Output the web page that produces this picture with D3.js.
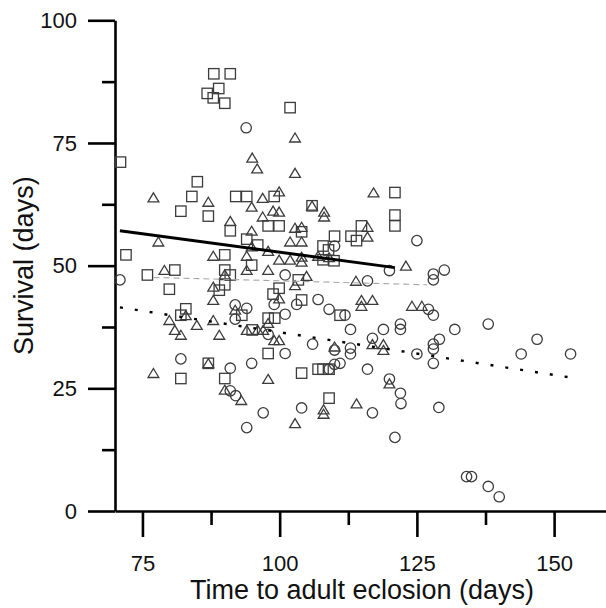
<!DOCTYPE html>
<html>
<head>
<meta charset="utf-8">
<script src="https://cdn.jsdelivr.net/npm/d3@7"></script>
<style>
  html, body { margin: 0; padding: 0; background: #fff; }
  svg { display: block; font-family: "Liberation Sans", Arial, Helvetica, sans-serif; }
</style>
</head>
<body>
<svg id="chart" width="606" height="608"></svg>
<script>
// ---- data (time to adult eclosion, survival) ----
const squareX = [88.0,91.0,86.8,88.9,87.9,90.0,101.9,71.0,85.0,84.0,82.0,87.0,92.0,94.0,99.0,97.9,99.9,91.0,94.0,96.0,72.0,90.0,121.0,105.9,121.0,121.0,114.9,113.0,114.0,110.0,104.0,107.9,108.9,107.9,109.9,75.9,80.9,79.9,90.0,91.0,94.9,90.0,89.0,99.9,98.8,93.1,82.9,82.0,97.9,99.1,95.0,97.9,87.0,82.0,90.0,103.4,104.0,111.0,107.0,107.9,109.0,104.0,109.0];
const squareY = [89.1,89.1,85.1,86.1,84.2,83.1,82.2,71.1,67.1,64.1,61.1,60.1,64.1,64.1,64.1,58.1,58.1,57.1,55.4,54.2,52.2,52.2,64.9,62.2,60.3,58.1,58.1,56.0,55.1,56.0,56.9,54.0,53.2,51.2,51.0,48.1,49.1,45.2,49.1,48.1,50.1,46.1,45.0,45.4,44.2,39.9,41.2,39.9,39.3,39.3,36.9,32.1,30.1,27.0,27.0,47.1,43.0,39.9,28.9,28.9,28.9,28.1,23.0];

const triangleX = [102.8,95.0,95.9,102.8,117.1,77.0,87.0,96.9,99.9,94.9,98.8,99.9,96.9,91.0,94.9,102.8,77.9,94.9,97.9,101.9,87.9,94.0,99.9,101.9,97.9,79.0,90.0,94.0,87.9,87.9,99.9,91.9,82.9,79.9,80.9,82.0,84.9,87.9,89.0,97.9,94.0,96.0,97.0,99.0,99.9,87.0,77.0,97.9,90.0,93.0,102.8,104.0,105.9,108.1,108.1,116.0,116.0,104.0,107.0,109.0,104.0,104.0,123.0,104.9,113.9,114.9,116.9,114.9,124.1,125.9,110.0,116.9,118.9,118.9,120.0,108.0,108.0,114.0,102.8];
const triangleY = [76.1,72.0,69.8,68.9,64.9,63.9,63.0,63.8,65.1,62.0,61.2,61.0,60.0,59.1,57.1,57.7,54.9,53.9,53.0,54.9,52.0,52.0,51.2,51.2,49.1,49.1,48.2,49.1,45.7,43.0,43.3,41.0,39.9,38.9,36.9,35.9,37.9,38.9,35.9,38.3,36.9,36.9,36.9,34.8,34.8,30.1,28.1,26.9,24.7,22.6,17.9,57.9,62.2,61.0,60.0,57.9,55.9,54.9,52.0,51.7,51.8,50.8,50.0,47.9,46.9,43.0,43.0,41.8,41.8,41.8,33.5,34.0,34.0,32.8,26.0,20.7,19.8,21.9,46.0];

const circleX = [93.9,70.9,101.0,99.0,91.9,94.0,91.9,101.0,103.1,97.9,101.0,82.0,91.0,94.9,91.0,92.0,97.0,94.0,104.0,116.9,122.1,121.0,129.0,134.05,134.95,138.0,140.0,122.0,110.0,125.0,120.0,128.0,128.0,130.0,116.0,107.0,109.0,111.9,127.1,128.0,112.9,118.9,122.0,122.0,131.9,138.0,146.9,144.0,153.0,106.0,110.0,112.9,112.9,116.9,125.0,128.0,128.0,129.1,128.0,109.0,110.0,111.0,116.0,120.0];
const circleY = [78.1,47.1,48.1,42.1,42.0,41.3,39.1,40.1,42.1,36.0,32.1,31.0,29.1,30.1,24.5,23.5,20.0,17.0,21.0,20.0,21.9,15.0,21.1,7.0,7.0,5.0,2.9,24.0,54.0,55.1,49.0,48.3,47.1,49.1,46.9,43.1,41.1,39.9,41.1,39.9,37.0,37.0,38.1,37.0,37.0,38.1,35.0,32.0,32.0,34.0,32.8,33.2,32.0,35.2,32.0,34.0,33.0,35.0,30.1,28.9,29.9,30.1,28.9,26.9];

// fitted regression lines: [xStart, xEnd], [yStart, yEnd]
const fitSquareX = [70.9, 121.0], fitSquareY = [57.1, 49.6];
const fitTriangleX = [77.0, 126.8], fitTriangleY = [47.6, 46.1];
const fitCircleX = [70.9, 153.0], fitCircleY = [41.5, 27.2];

const xMajorTicks = [75, 100, 125, 150];
const xMinorTicks = [87.5, 112.5, 137.5];
const yMajorTicks = [0, 25, 50, 75, 100];
const yMinorTicks = [12.5, 37.5, 62.5, 87.5];
const xTitle = "Time to adult eclosion (days)";
const yTitle = "Survival (days)";

// ---- drawing ----
const svg = d3.select("#chart");
const x = d3.scaleLinear().domain([70, 160]).range([115, 609]);
const y = d3.scaleLinear().domain([0, 100]).range([511, 20.3]);

const axisColor = "#000";
const axisW = 2.6;

function styleAxis(g) {
  g.selectAll("path.domain").attr("stroke", axisColor).attr("stroke-width", axisW);
  g.selectAll(".tick line").attr("stroke", axisColor).attr("stroke-width", axisW);
  g.selectAll(".tick text").attr("font-size", 22).attr("fill", "#111")
    .attr("font-family", '"Liberation Sans", Arial, sans-serif');
}

// minor ticks
svg.append("g").attr("transform", `translate(0,${y(0)})`)
  .call(d3.axisBottom(x).tickValues(xMinorTicks).tickSize(14).tickSizeOuter(0).tickFormat(""))
  .call(g => g.select(".domain").remove())
  .call(styleAxis);
svg.append("g").attr("transform", `translate(${x(70)},0)`)
  .call(d3.axisLeft(y).tickValues(yMinorTicks).tickSize(13).tickSizeOuter(0).tickFormat(""))
  .call(g => g.select(".domain").remove())
  .call(styleAxis);

// major axes
svg.append("g").attr("transform", `translate(0,${y(0)})`)
  .call(d3.axisBottom(x).tickValues(xMajorTicks).tickSize(26).tickSizeOuter(0).tickPadding(18).tickFormat(d3.format("d")))
  .call(styleAxis);
svg.append("g").attr("transform", `translate(${x(70)},0)`)
  .call(d3.axisLeft(y).tickValues(yMajorTicks).tickSize(27).tickSizeOuter(0).tickPadding(11).tickFormat(d3.format("d")))
  .call(styleAxis);

// titles
svg.append("text")
  .attr("x", 362).attr("y", 599)
  .attr("text-anchor", "middle")
  .attr("font-size", 27).attr("fill", "#111")
  .text(xTitle);
svg.append("text")
  .attr("transform", `translate(33,${(y(0) + y(100)) / 2}) rotate(-90)`)
  .attr("text-anchor", "middle")
  .attr("font-size", 27).attr("fill", "#111")
  .text(yTitle);

// markers
const markerColor = "#3c3c3c";
const mW = 1.3;
const pts = svg.append("g").attr("fill", "none").attr("stroke", markerColor).attr("stroke-width", mW);

const squares = squareX.map((v, i) => ({ x: v, y: squareY[i] }));
const triangles = triangleX.map((v, i) => ({ x: v, y: triangleY[i] }));
const circles = circleX.map((v, i) => ({ x: v, y: circleY[i] }));

pts.selectAll("rect.sq").data(squares).join("rect")
  .attr("class", "sq")
  .attr("x", d => x(d.x) - 5.2).attr("y", d => y(d.y) - 5.2)
  .attr("width", 10.4).attr("height", 10.4);

const triPath = "M0,-4.6L5.4,4.4L-5.4,4.4Z";
pts.selectAll("path.tri").data(triangles).join("path")
  .attr("class", "tri")
  .attr("d", triPath)
  .attr("transform", d => `translate(${x(d.x)},${y(d.y)})`);

pts.selectAll("circle.ci").data(circles).join("circle")
  .attr("class", "ci")
  .attr("cx", d => x(d.x)).attr("cy", d => y(d.y)).attr("r", 5.2);

// regression lines
const line = d3.line().x(d => x(d[0])).y(d => y(d[1]));
svg.append("path")
  .datum([[fitTriangleX[0], fitTriangleY[0]], [fitTriangleX[1], fitTriangleY[1]]])
  .attr("d", line).attr("fill", "none")
  .attr("stroke", "#a6a6a6").attr("stroke-width", 1.1).attr("stroke-dasharray", "6 4");
svg.append("path")
  .datum([[fitCircleX[0], fitCircleY[0]], [fitCircleX[1], fitCircleY[1]]])
  .attr("d", line).attr("fill", "none")
  .attr("stroke", "#000").attr("stroke-width", 2.4).attr("stroke-dasharray", "3 12");
svg.append("path")
  .datum([[fitSquareX[0], fitSquareY[0]], [fitSquareX[1], fitSquareY[1]]])
  .attr("d", line).attr("fill", "none")
  .attr("stroke", "#000").attr("stroke-width", 3);
</script>
</body>
</html>
